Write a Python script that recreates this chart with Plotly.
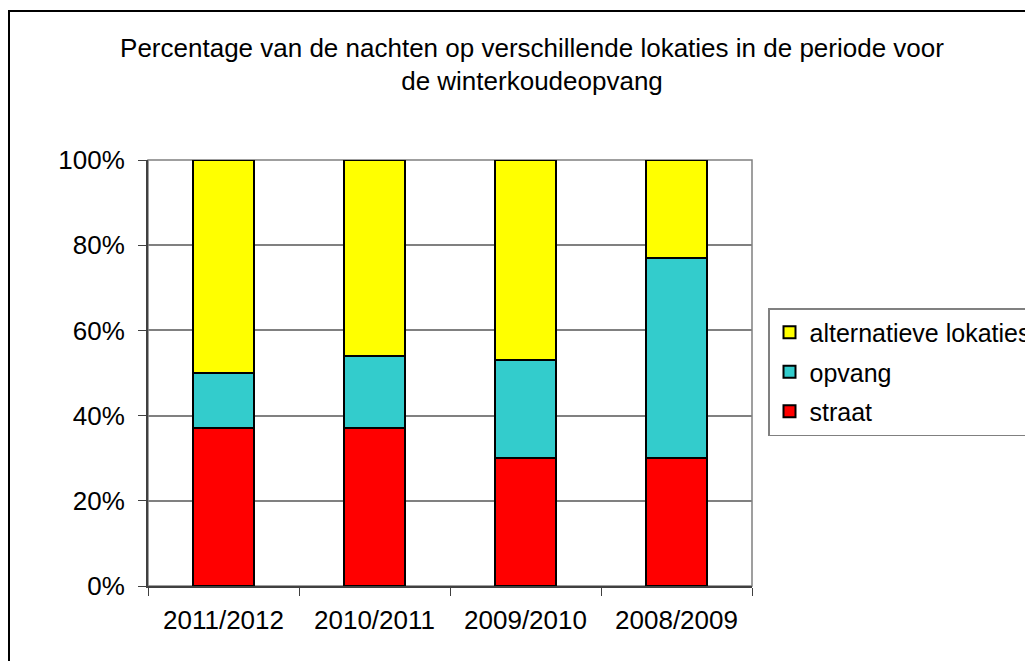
import plotly.graph_objects as go

# data (percent of nights)
seasons = ["2011/2012", "2010/2011", "2009/2010", "2008/2009"]
straat = [37, 37, 30, 30]
opvang = [13, 17, 23, 47]
alternatief = [50, 46, 47, 23]
pct_ticks = [0, 20, 40, 60, 80, 100]
pct_labels = [f"{v}%" for v in pct_ticks]

font = "Liberation Sans, Arial, sans-serif"

# page body has an 8px margin, so the figure is drawn 8px smaller and shifted
W, H = 1025, 653
L, T = 140, 152          # plot area left/top in figure px
PW, PH = 604, 426        # plot area size

fig = go.Figure()
fig.add_trace(go.Bar(x=seasons, y=straat, name="straat", legendgroup="c", legendrank=3,
                     marker=dict(color="#FF0000", line=dict(color="black", width=2))))
fig.add_trace(go.Bar(x=seasons, y=opvang, name="opvang", legendgroup="b", legendrank=2,
                     marker=dict(color="#33CCCC", line=dict(color="black", width=2))))
fig.add_trace(go.Bar(x=seasons, y=alternatief, name="alternatieve lokaties", legendgroup="a",
                     legendrank=1,
                     marker=dict(color="#FFFF00", line=dict(color="black", width=2))))

fig.update_layout(
    width=W, height=H,
    barmode="stack", barnorm="percent", bargap=0.59,
    paper_bgcolor="white", plot_bgcolor="white",
    margin=dict(l=L, r=W - L - PW, t=T, b=H - T - PH, autoexpand=False),
    font=dict(family=font, size=26, color="black"),
    title=dict(text="Percentage van de nachten op verschillende lokaties in de periode voor<br>de winterkoudeopvang",
               x=(532 - 148) / PW, xref="paper", xanchor="center",
               y=1 - 48.5 / H, yref="container", yanchor="middle",
               font=dict(size=26)),
    showlegend=True,
    legend=dict(x=(768 - 148) / PW, xanchor="left", y=(586 - 308) / PH, yanchor="top",
                traceorder="grouped", tracegroupgap=4,
                bordercolor="#808080", borderwidth=1.5,
                font=dict(size=25)),
    shapes=[
        dict(type="rect", xref="paper", yref="paper", x0=0, x1=1, y0=0, y1=1,
             line=dict(color="#808080", width=1.5), layer="below"),
        dict(type="rect", xref="paper", yref="paper",
             x0=(9 - 148) / PW, x1=2, y0=-1, y1=(586 - 11) / PH,
             line=dict(color="black", width=2)),
    ],
)
fig.update_yaxes(range=[0, 100], tickvals=pct_ticks, ticktext=pct_labels,
                 showgrid=True, gridcolor="#808080", gridwidth=1.5,
                 showline=True, linecolor="#404040", linewidth=2,
                 ticks="outside", ticklen=8, tickcolor="#404040", ticklabelstandoff=8,
                 zeroline=False)
fig.update_xaxes(showline=True, linecolor="#404040", linewidth=2,
                 ticks="outside", ticklen=8, tickcolor="#404040", tickson="boundaries",
                 ticklabelstandoff=10, showgrid=False)

fig.write_html("out.html")
